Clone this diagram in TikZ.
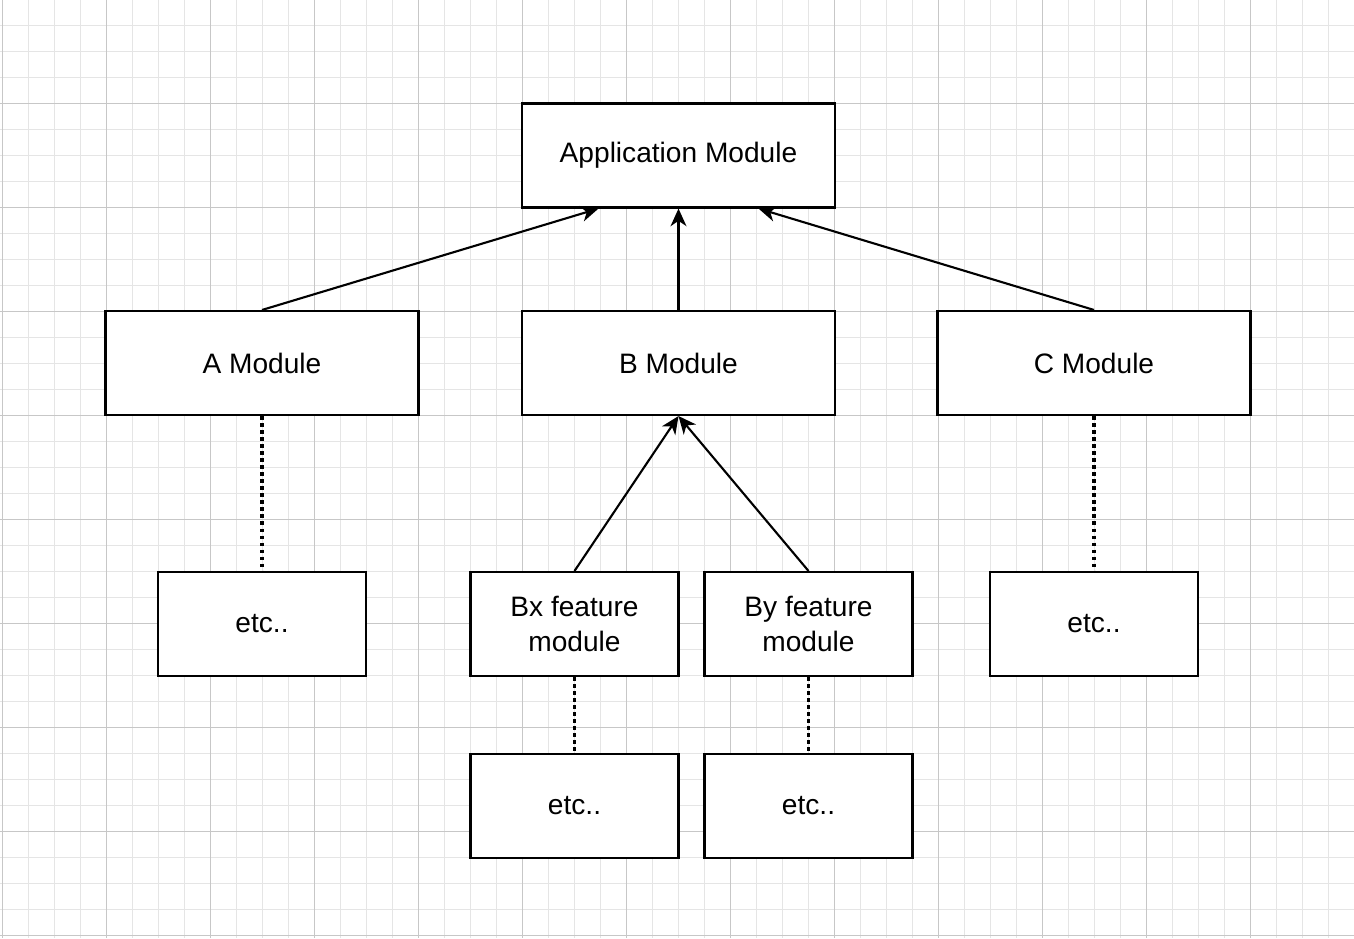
\documentclass[tikz,border=0pt]{standalone}
\usepackage{fontspec}
\setmainfont{Liberation Sans}
\usetikzlibrary{arrows.meta,positioning}
\begin{document}
\begin{tikzpicture}[x=0.02cm,y=-0.02cm]
\useasboundingbox (0,0) rectangle (1354,938);
\fill[white] (0,0) rectangle (1354,938);
% grid
\foreach \g in {0,...,52} {
  \draw[black!10,line width=0.4pt] ({2+26*\g},0) -- ({2+26*\g},938);
}
\foreach \g in {0,...,36} {
  \draw[black!10,line width=0.4pt] (0,{-1+26*\g}) -- (1354,{-1+26*\g});
}
\foreach \g in {0,...,13} {
  \draw[black!22,line width=0.5pt] ({2+104*\g},0) -- ({2+104*\g},938);
}
\foreach \g in {0,...,9} {
  \draw[black!22,line width=0.5pt] (0,{-1+104*\g}) -- (1354,{-1+104*\g});
}
\begin{scope}[every node/.style={draw,fill=white,line width=1.2pt,align=center,font=\fontsize{16}{20}\selectfont},
  big/.style={minimum width=6.26cm,minimum height=2.08cm},
  small/.style={minimum width=4.16cm,minimum height=2.08cm},
  dep/.style={line width=1.2pt,-{Stealth[length=10pt,width=9pt,inset=3pt]}},
  etc/.style={line width=2pt,dotted}]

% Nodes
\node[big] at(678.5,155.5) (app) {Application Module};
\node[big] at(262,363) (a) {A Module};
\node[big] at(678.5,363) (b) {B Module};
\node[big] at(1094,363) (c) {C Module};
\node[small] at(262,624) (aetc) {etc..};
\node[small] at(574.5,624) (bx) {Bx feature\\module};
\node[small] at(808.5,624) (by) {By feature\\module};
\node[small] at(1094,624) (cetc) {etc..};
\node[small] at(574.5,806) (bxetc) {etc..};
\node[small] at(808.5,806) (byetc) {etc..};

% Edges
\draw[dep] (a.north) -- ([xshift=-1.6cm]app.south);
\draw[dep] (b.north) -- (app.south);
\draw[dep] (c.north) -- ([xshift=1.6cm]app.south);
\draw[dep] (bx.north) -- (b.south);
\draw[dep] (by.north) -- (b.south);
\draw[etc] (a.south) -- (aetc.north);
\draw[etc] (c.south) -- (cetc.north);
\draw[etc] (bx.south) -- (bxetc.north);
\draw[etc] (by.south) -- (byetc.north);
\end{scope}
\end{tikzpicture}
\end{document}
